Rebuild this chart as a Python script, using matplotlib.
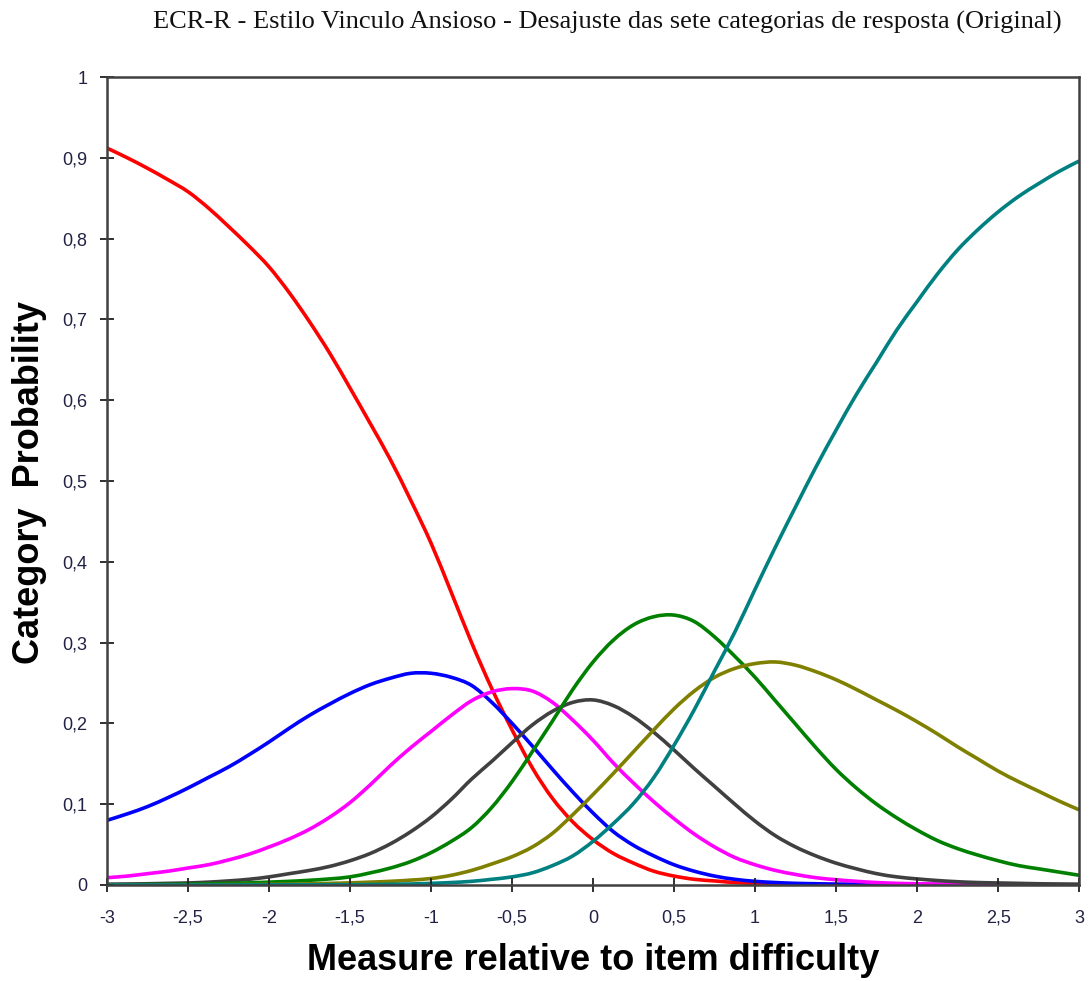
import matplotlib
matplotlib.use("Agg")
import matplotlib.pyplot as plt
from matplotlib.path import Path
from matplotlib.patches import PathPatch
from matplotlib.ticker import FixedLocator, FuncFormatter

# Measure relative to item difficulty (logits), every 0.125
measure = [-3.0, -2.875, -2.75, -2.625, -2.5, -2.375, -2.25, -2.125, -2.0, -1.875,
           -1.75, -1.625, -1.5, -1.375, -1.25, -1.125, -1.0, -0.875, -0.75, -0.625,
           -0.5, -0.375, -0.25, -0.125, 0.0, 0.125, 0.25, 0.375, 0.5, 0.625,
           0.75, 0.875, 1.0, 1.125, 1.25, 1.375, 1.5, 1.625, 1.75, 1.875,
           2.0, 2.125, 2.25, 2.375, 2.5, 2.625, 2.75, 2.875, 3.0]

# Category probability curves, one list per response category
cat1 = [0.912, 0.900, 0.887, 0.873, 0.858, 0.838, 0.815, 0.791, 0.765, 0.733,
        0.697, 0.658, 0.615, 0.571, 0.526, 0.476, 0.423, 0.362, 0.300, 0.243,
        0.192, 0.145, 0.107, 0.078, 0.056, 0.039, 0.027, 0.017, 0.011, 0.007,
        0.005, 0.003, 0.002, 0.0015, 0.001, 0.0008, 0.0006, 0.0005, 0.0004, 0.0003,
        0.0002, 0.0002, 0.0001, 0.0001, 0.0001, 0.0, 0.0, 0.0, 0.0]
cat2 = [0.080, 0.088, 0.097, 0.108, 0.120, 0.133, 0.146, 0.161, 0.177, 0.194,
        0.210, 0.224, 0.237, 0.248, 0.256, 0.262, 0.262, 0.257, 0.247, 0.226,
        0.200, 0.172, 0.143, 0.115, 0.089, 0.066, 0.049, 0.036, 0.025, 0.017,
        0.011, 0.007, 0.0045, 0.003, 0.002, 0.0015, 0.001, 0.0009, 0.0008, 0.0007,
        0.0006, 0.0005, 0.0004, 0.0004, 0.0003, 0.0003, 0.0002, 0.0002, 0.0001]
cat3 = [0.009, 0.011, 0.014, 0.017, 0.021, 0.025, 0.031, 0.038, 0.047, 0.057,
        0.069, 0.084, 0.102, 0.124, 0.148, 0.170, 0.190, 0.210, 0.228, 0.239,
        0.243, 0.240, 0.226, 0.204, 0.179, 0.151, 0.126, 0.103, 0.082, 0.063,
        0.047, 0.034, 0.025, 0.018, 0.013, 0.009, 0.0065, 0.0045, 0.003, 0.002,
        0.0015, 0.0012, 0.001, 0.0008, 0.0006, 0.0005, 0.0004, 0.0003, 0.0002]
cat4 = [0.001, 0.0012, 0.0015, 0.002, 0.0025, 0.0035, 0.005, 0.007, 0.010, 0.014,
        0.018, 0.023, 0.030, 0.039, 0.051, 0.066, 0.084, 0.106, 0.131, 0.153,
        0.176, 0.198, 0.215, 0.226, 0.229, 0.222, 0.208, 0.189, 0.167, 0.144,
        0.122, 0.100, 0.079, 0.061, 0.047, 0.036, 0.027, 0.020, 0.014, 0.010,
        0.0075, 0.0055, 0.004, 0.003, 0.0025, 0.002, 0.0015, 0.0012, 0.001]
cat5 = [0.0002, 0.0003, 0.0005, 0.0007, 0.001, 0.0014, 0.002, 0.0026, 0.0035, 0.0045,
        0.0058, 0.0075, 0.010, 0.015, 0.021, 0.029, 0.040, 0.054, 0.071, 0.096,
        0.128, 0.165, 0.203, 0.242, 0.276, 0.303, 0.322, 0.332, 0.334, 0.326,
        0.307, 0.283, 0.257, 0.228, 0.199, 0.170, 0.143, 0.120, 0.100, 0.083,
        0.068, 0.055, 0.045, 0.037, 0.030, 0.024, 0.020, 0.016, 0.012]
cat6 = [0.0, 0.0, 0.0001, 0.0001, 0.0002, 0.0003, 0.0004, 0.0006, 0.0008, 0.001,
        0.0014, 0.002, 0.0026, 0.0035, 0.0045, 0.006, 0.008, 0.012, 0.018, 0.026,
        0.035, 0.047, 0.064, 0.087, 0.112, 0.138, 0.165, 0.192, 0.218, 0.240,
        0.257, 0.268, 0.274, 0.276, 0.272, 0.264, 0.254, 0.242, 0.229, 0.216,
        0.202, 0.187, 0.171, 0.156, 0.141, 0.128, 0.116, 0.104, 0.093]
cat7 = [0.0, 0.0, 0.0, 0.0, 0.0, 0.0, 0.0, 0.0001, 0.0001, 0.0002,
        0.0002, 0.0003, 0.0003, 0.0005, 0.0008, 0.0012, 0.002, 0.003, 0.0045, 0.007,
        0.010, 0.015, 0.024, 0.036, 0.054, 0.076, 0.101, 0.133, 0.173, 0.217,
        0.265, 0.313, 0.366, 0.418, 0.468, 0.517, 0.563, 0.607, 0.647, 0.687,
        0.722, 0.756, 0.786, 0.811, 0.833, 0.852, 0.868, 0.883, 0.896]

series = [cat1, cat2, cat3, cat4, cat5, cat6, cat7]
colors = ["#ff0000", "#0000ff", "#ff00ff", "#404040", "#008000", "#808000", "#008080"]

x_ticks = [-3, -2.5, -2, -1.5, -1, -0.5, 0, 0.5, 1, 1.5, 2, 2.5, 3]
y_ticks = [0, 0.1, 0.2, 0.3, 0.4, 0.5, 0.6, 0.7, 0.8, 0.9, 1.0]

title = "ECR-R - Estilo Vinculo Ansioso - Desajuste das sete categorias de resposta (Original)"
x_label = "Measure relative to item difficulty"
y_label = "Category  Probability"


def smooth_path(xs, ys):
    """Smoothed line through the points (Catmull-Rom segments as cubic Beziers)."""
    pts = list(zip(xs, ys))
    n = len(pts)
    verts = [pts[0]]
    codes = [Path.MOVETO]
    for i in range(n - 1):
        p0 = pts[i - 1] if i > 0 else pts[i]
        p1 = pts[i]
        p2 = pts[i + 1]
        p3 = pts[i + 2] if i + 2 < n else pts[i + 1]
        c1 = (p1[0] + (p2[0] - p0[0]) / 6.0, p1[1] + (p2[1] - p0[1]) / 6.0)
        c2 = (p2[0] - (p3[0] - p1[0]) / 6.0, p2[1] - (p3[1] - p1[1]) / 6.0)
        verts += [c1, c2, p2]
        codes += [Path.CURVE4, Path.CURVE4, Path.CURVE4]
    return Path(verts, codes)


fig = plt.figure(figsize=(10.9, 9.81), dpi=100)
ax = fig.add_axes([0.0982, 0.0979, 0.8918, 0.8236])

for values, color in zip(series, colors):
    patch = PathPatch(smooth_path(measure, values), facecolor="none",
                      edgecolor=color, lw=2.6, joinstyle="round", capstyle="butt")
    ax.add_patch(patch)

ax.set_xlim(-3, 3)
ax.set_ylim(0, 1)


def comma_fmt(v, _pos):
    return ("%g" % v).replace(".", ",")


ax.xaxis.set_major_locator(FixedLocator(x_ticks))
ax.yaxis.set_major_locator(FixedLocator(y_ticks))
ax.xaxis.set_major_formatter(FuncFormatter(comma_fmt))
ax.yaxis.set_major_formatter(FuncFormatter(comma_fmt))

tick_color = "#222244"
ax.tick_params(axis="both", direction="inout", length=10, width=1.3,
               color="#202020", labelsize=13, labelcolor=tick_color,
               labelfontfamily="Liberation Sans")
ax.tick_params(axis="x", pad=13)
ax.tick_params(axis="y", pad=9)

for side in ["left", "right", "top", "bottom"]:
    ax.spines[side].set_color("#404040")
    ax.spines[side].set_linewidth(1.8)

fig.text(0.557, 0.977, title, ha="center", va="center",
         fontfamily="Liberation Serif", fontsize=19, color="#111111")
fig.text(0.544, 0.021, x_label, ha="center", va="center",
         fontfamily="Liberation Sans", fontweight="bold", fontsize=26, color="#000000")
fig.text(0.0275, 0.508, y_label, ha="center", va="center", rotation=90,
         fontfamily="Liberation Sans", fontweight="bold", fontsize=26, color="#000000")

fig.savefig("out.png", dpi=100, facecolor="white")
